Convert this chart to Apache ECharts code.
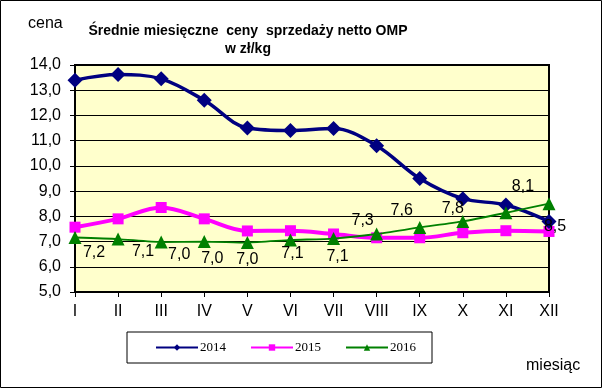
<!DOCTYPE html>
<html><head><meta charset="utf-8">
<script src="https://cdn.jsdelivr.net/npm/echarts@6/dist/echarts.min.js"></script>
<style>html,body{margin:0;padding:0;background:#fff}#c{width:602px;height:388px}</style>
</head><body><div id="c"></div>
<script>
const months = ['I','II','III','IV','V','VI','VII','VIII','IX','X','XI','XII'];
const s2014 = [13.4, 13.62, 13.45, 12.6, 11.5, 11.4, 11.48, 10.8, 9.5, 8.7, 8.45, 7.8];
const s2015 = [7.57, 7.9, 8.35, 7.9, 7.42, 7.43, 7.3, 7.15, 7.15, 7.35, 7.43, 7.4];
const s2016 = [7.16, 7.1, 6.98, 7.0, 6.96, 7.06, 7.12, 7.3, 7.56, 7.8, 8.14, 8.5];
const labelOffsets2016 = [[19,15],[25,13],[18,13],[8,17],[0,17],[2,14],[4,18],[-14,-13],[-18,-17],[-10,-13],[17,-26],[6,23]];
const yTicks = {min: 5, max: 14, interval: 1};
const fmt = v => v.toFixed(1).replace('.', ',');
const chart = echarts.init(document.getElementById('c'));
const font = 'Liberation Sans, Arial, sans-serif';
chart.setOption({
  animation: false,
  backgroundColor: '#fff',
  title: {
    text: 'Średnie miesięczne  ceny  sprzedaży netto OMP\nw zł/kg',
    left: 243, top: 17, textAlign: 'center',
    textStyle: {fontFamily: font, fontSize: 14, fontWeight: 'bold', color: '#000', lineHeight: 18}
  },
  grid: {left: 75, right: 53, top: 65, bottom: 96, show: true, backgroundColor: '#FFFFCC', borderColor: '#000', borderWidth: 2},
  legend: {
    left: 127, top: 332, padding: [9, 16, 9, 28], itemGap: 24,
    borderColor: '#000', borderWidth: 1, itemWidth: 42, itemHeight: 8,
    textStyle: {fontFamily: 'Liberation Serif, Times New Roman, serif', fontSize: 13, color: '#000', padding: [0,0,0,-3]},
    data: ['2014','2015','2016']
  },
  xAxis: {
    type: 'category', data: months, boundaryGap: false,
    axisLine: {lineStyle: {color: '#000', width: 2}},
    axisTick: {show: true, alignWithLabel: true, length: 5, lineStyle: {color: '#000', width: 1}},
    axisLabel: {color: '#000', fontFamily: font, fontSize: 16, margin: 12, interval: 0},
    splitLine: {show: false}
  },
  yAxis: {
    type: 'value', min: yTicks.min, max: yTicks.max, interval: yTicks.interval,
    axisLine: {show: true, lineStyle: {color: '#000', width: 2}},
    axisTick: {show: true, length: 5, lineStyle: {color: '#000'}},
    axisLabel: {color: '#000', fontFamily: font, fontSize: 16, margin: 14, formatter: fmt},
    splitLine: {show: true, lineStyle: {color: '#000', width: 1}}
  },
  graphic: [
    {type: 'rect', shape: {x: 0.5, y: 0.5, width: 601, height: 387}, style: {fill: 'none', stroke: '#000', lineWidth: 1}, silent: true},
    {type: 'text', left: 28, top: 16, style: {text: 'cena', fontFamily: font, fontSize: 16, fill: '#000'}},
    {type: 'text', left: 526, top: 358, style: {text: 'miesiąc', fontFamily: font, fontSize: 16, fill: '#000'}}
  ],
  series: [
    {name: '2014', type: 'line', data: s2014, smooth: 0.35, symbol: 'diamond', symbolSize: 15,
      itemStyle: {color: '#000080'}, lineStyle: {color: '#000080', width: 3.5}, z: 3},
    {name: '2015', type: 'line', data: s2015, smooth: 0.35, symbol: 'rect', symbolSize: 11,
      itemStyle: {color: '#FF00FF'}, lineStyle: {color: '#FF00FF', width: 4}, z: 2},
    {name: '2016', type: 'line', data: s2016.map((v, i) => ({value: v, label: {offset: labelOffsets2016[i]}})),
      smooth: 0.2, symbol: 'triangle', symbolSize: 13,
      itemStyle: {color: '#008000'}, lineStyle: {color: '#008000', width: 1.8}, z: 4,
      label: {show: true, position: 'inside', color: '#000', fontFamily: font, fontSize: 16,
        formatter: p => fmt(p.value)}}
  ]
});
</script></body></html>
